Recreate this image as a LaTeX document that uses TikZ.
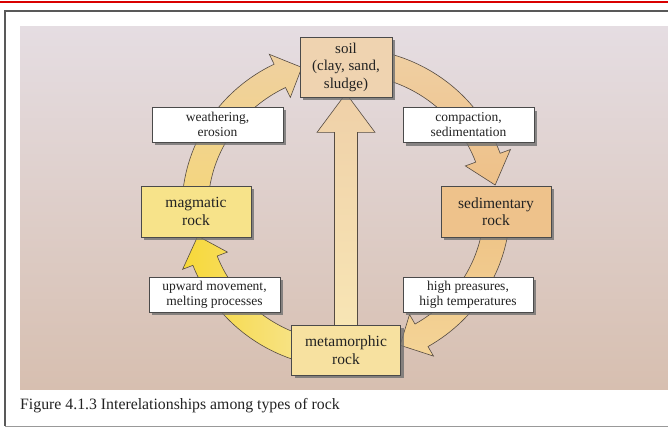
\documentclass[tikz,border=0pt]{standalone}
\usepackage{fontspec}
\setmainfont{Liberation Serif}
\usetikzlibrary{calc,shadows}
\definecolor{paneltop}{HTML}{E5DDE2}
\definecolor{panelbot}{HTML}{D7BFB0}
\definecolor{soilc}{HTML}{EFD3B0}
\definecolor{magc}{HTML}{F7E38A}
\definecolor{sedc}{HTML}{EEC28B}
\definecolor{metac}{HTML}{F7E1A0}
\definecolor{boxline}{HTML}{4A4A4A}
\definecolor{shadowc}{HTML}{707070}
\definecolor{txt}{HTML}{222222}
\definecolor{arrline}{HTML}{554B42}
\definecolor{aOneB}{HTML}{F4D67E}
\definecolor{aOneT}{HTML}{EFD0A0}
\definecolor{aTwoT}{HTML}{EFCFA2}
\definecolor{aTwoB}{HTML}{EEC088}
\definecolor{aThrT}{HTML}{EEC286}
\definecolor{aThrB}{HTML}{F4D496}
\definecolor{aFourL}{HTML}{F7D838}
\definecolor{aFourR}{HTML}{F7E6A0}
\definecolor{vertT}{HTML}{EFD0A8}
\definecolor{vertB}{HTML}{F8E6B5}
\pgfdeclarelayer{bg}
\pgfdeclarelayer{arrows}
\pgfsetlayers{bg,arrows,main}
\begin{document}
\begin{tikzpicture}[x=1pt,y=-1pt,
  boxbase/.style={draw=boxline, line width=0.7pt, inner sep=0pt, align=center, text=txt,
    drop shadow={shadow xshift=3pt, shadow yshift=-3pt, fill=shadowc, opacity=0.8}},
  rockbox/.style={boxbase, font=\fontsize{15.5}{17.5}\selectfont, minimum width=110pt, minimum height=51pt},
  labelbox/.style={boxbase, fill=white, font=\fontsize{13.5}{15}\selectfont, minimum width=131pt, minimum height=35pt},
  cyc/.style={draw=arrline, line width=0.6pt}]
\useasboundingbox (0,0) rectangle (668,428);
% frame and panel
\begin{pgfonlayer}{bg}
\fill[white] (0,0) rectangle (668,428);
\draw[red!85!black, line width=1.4pt] (0,2) -- (668,2);
\shade[top color=paneltop, bottom color=panelbot] (20,27) rectangle (668,389);
\draw[black!65, line width=1.5pt] (670,11) -- (5,11) -- (5,426);
\draw[black!40, line width=1pt] (5,426) -- (670,426);
\end{pgfonlayer}
% nodes
\coordinate (C) at (346,208);
\node[rockbox, fill=soilc, minimum width=92pt, minimum height=60pt, font=\fontsize{15}{17.5}\selectfont] (soil) at (346,67) {soil\\(clay, sand,\\sludge)};
\node[labelbox] (weath) at (217.5,124.5) {weathering,\\erosion};
\node[labelbox] (compact) at (468.5,125) {compaction,\\sedimentation};
\node[rockbox, fill=magc] (mag) at (196,211.5) {magmatic\\rock};
\node[rockbox, fill=sedc] (sed) at (496,211.5) {sedimentary\\rock};
\node[labelbox] (upward) at (214.5,294.5) {upward movement,\\melting processes};
\node[labelbox, minimum width=130pt] (high) at (468,294.5) {high preasures,\\high temperatures};
\node[rockbox, fill=metac, minimum width=109pt, minimum height=50pt] (meta) at (346,350) {metamorphic\\rock};
\node[anchor=base west, text=txt, inner sep=0pt, font=\fontsize{15.8}{18}\selectfont] (caption) at (20,409) {Figure 4.1.3 Interelationships among types of rock};
% arrows
\begin{pgfonlayer}{arrows}
\begin{scope}[shift={(C)}]
% magmatic -> soil
\path[cyc, bottom color=aOneB, top color=aOneT]
  (185:164 and 160) arc[start angle=185, end angle=244, x radius=164, y radius=160]
  -- (244:175 and 171) -- (253:151 and 147) -- (244:127 and 123)
  -- (244:138 and 134) arc[start angle=244, end angle=185, x radius=138, y radius=134] -- cycle;
% soil -> sedimentary
\path[cyc, top color=aTwoT, bottom color=aTwoB]
  (285:164 and 160) arc[start angle=285, end angle=340, x radius=164, y radius=160]
  -- (340:175 and 171) -- (351:151 and 147) -- (340:127 and 123)
  -- (340:138 and 134) arc[start angle=340, end angle=285, x radius=138, y radius=134] -- cycle;
% sedimentary -> metamorphic
\path[cyc, top color=aThrT, bottom color=aThrB]
  (2:164 and 160) arc[start angle=2, end angle=60, x radius=164, y radius=160]
  -- (60:175 and 171) -- (69:151 and 147) -- (60:127 and 123)
  -- (60:138 and 134) arc[start angle=60, end angle=2, x radius=138, y radius=134] -- cycle;
% metamorphic -> magmatic
\path[cyc, left color=aFourL, right color=aFourR]
  (95:164 and 160) arc[start angle=95, end angle=159, x radius=164, y radius=160]
  -- (159:175 and 171) -- (169:151 and 147) -- (159:127 and 123)
  -- (159:138 and 134) arc[start angle=159, end angle=95, x radius=138, y radius=134] -- cycle;
\end{scope}
% metamorphic -> soil (straight)
\path[cyc, top color=vertT, bottom color=vertB]
  ($(meta.north)+(-11.5,10)$) -- ($(soil.south)+(-11.5,35)$) -- ($(soil.south)+(-29,35)$)
  -- ($(soil.south)+(0,-4)$) -- ($(soil.south)+(29,35)$) -- ($(soil.south)+(11.5,35)$)
  -- ($(meta.north)+(11.5,10)$) -- cycle;
\end{pgfonlayer}
\end{tikzpicture}
\end{document}
